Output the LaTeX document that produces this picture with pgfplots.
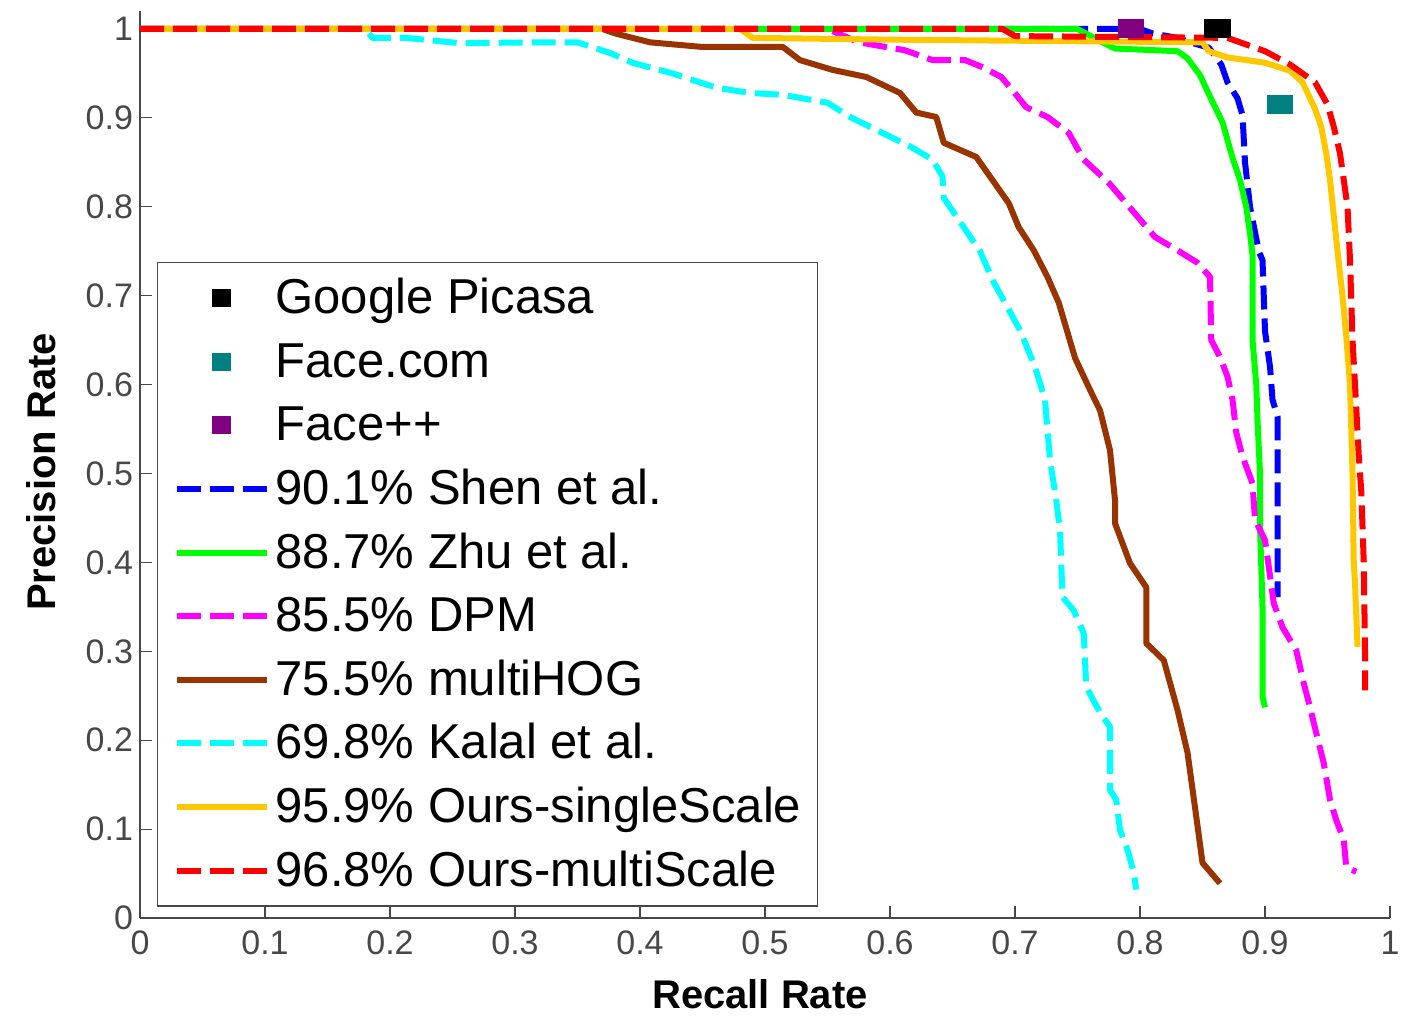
\documentclass[border=0pt]{standalone}
\usepackage{pgfplots}
\pgfplotsset{compat=1.18}
\usepackage{fontspec}
\setmainfont{Liberation Sans}
\definecolor{cBlue}{rgb}{0,0,1}
\definecolor{cGreen}{rgb}{0,1,0}
\definecolor{cMag}{rgb}{1,0,1}
\definecolor{cBrown}{rgb}{0.6,0.2,0}
\definecolor{cCyan}{rgb}{0,1,1}
\definecolor{cOrange}{rgb}{1,0.78,0}
\definecolor{cRed}{rgb}{1,0,0}
\definecolor{cTeal}{rgb}{0,0.5,0.5}
\definecolor{cPurple}{rgb}{0.5,0,0.5}
\definecolor{axgray}{rgb}{0.28,0.28,0.28}
\begin{document}
\begin{tikzpicture}
\begin{axis}[
  scale only axis,
  width=625pt, height=453.4pt,
  xmin=0, xmax=1, ymin=0, ymax=1.02,
  clip=false,
  axis x line*=bottom, axis y line*=left,
  axis line style={draw=axgray, line width=0.8pt},
  tick align=inside,
  major tick length=6pt,
  tick style={draw=axgray, line width=0.6pt},
  xtick={0,0.1,0.2,0.3,0.4,0.5,0.6,0.7,0.8,0.9,1},
  ytick={0,0.1,0.2,0.3,0.4,0.5,0.6,0.7,0.8,0.9,1},
  /pgf/number format/assume math mode=true,
  ticklabel style={font=\fontsize{17}{20}\selectfont, text=axgray},
  xticklabel style={yshift=-3pt},
  xlabel={Recall Rate},
  ylabel={Precision Rate},
  xlabel style={font=\fontsize{20}{24}\selectfont\bfseries, at={(axis description cs:0.496,-0.0993)}, anchor=base},
  ylabel style={font=\fontsize{20}{24}\selectfont\bfseries, at={(axis description cs:-0.068,0.4918)}, anchor=base, rotate=0},
  legend style={
    at={(axis description cs:0.0136,0.7234)}, anchor=north west,
    draw=axgray, line width=0.6pt,
    inner xsep=8pt, inner ysep=5pt,
    font=\fontsize{24.5}{28}\selectfont,
    nodes={inner sep=0pt, text height=20.5pt, text depth=5pt, anchor=west},
    row sep=6.3pt,
    /tikz/every odd column/.append style={column sep=3pt},
  },
  legend cell align=left,
  legend image code/.code={\draw[mark repeat=2,mark phase=2,#1] plot coordinates {(0pt,0pt) (22.5pt,0pt) (45pt,0pt)};},
  every axis plot/.append style={line width=3pt, line join=round},
  mydash/.style={dash pattern=on 12pt off 4.5pt},
  mkstyle/.style={only marks, mark=square*, mark size=4.5pt, mark options={xscale=1.4, solid, line width=0.5pt},
     legend image code/.code={\draw[mark repeat=2,mark phase=2,mark size=4.2pt, mark options={xscale=1.1,line width=0.5pt}] plot coordinates {(0pt,0pt) (22.5pt,0pt) (45pt,0pt)};}},
]
\path (axis cs:-0.112,-0.1069) rectangle (axis cs:1.0208,1.0326);

\addplot[mkstyle, color=black] coordinates {(0.862,1.0)};
\addlegendentry{Google Picasa}
\addplot[mkstyle, color=cTeal] coordinates {(0.912,0.9156)};
\addlegendentry{Face.com}
\addplot[mkstyle, color=cPurple] coordinates {(0.793,1.0)};
\addlegendentry{Face++}

% Shen et al.
\addplot[cBlue, mydash] coordinates {
(0,1) (0.80,1) (0.81,0.995) (0.83,0.99) (0.84,0.985) (0.855,0.979) (0.865,0.96) (0.87,0.94) (0.878,0.922) (0.882,0.903) (0.884,0.85) (0.888,0.80) (0.895,0.75) (0.898,0.74) (0.900,0.66) (0.904,0.62) (0.906,0.583) (0.91,0.564) (0.91,0.361)};
\addlegendentry{90.1\% Shen et al.}

% Zhu et al.
\addplot[cGreen] coordinates {
(0,1) (0.75,1) (0.77,0.985) (0.78,0.978) (0.83,0.975) (0.838,0.967) (0.848,0.948) (0.858,0.918) (0.866,0.895) (0.874,0.855) (0.88,0.83) (0.885,0.80) (0.888,0.77) (0.890,0.746) (0.890,0.65) (0.893,0.60) (0.894,0.56) (0.896,0.50) (0.896,0.44) (0.898,0.35) (0.898,0.249) (0.9,0.237)};
\addlegendentry{88.7\% Zhu et al.}

% DPM
\addplot[cMag, mydash] coordinates {
(0,1) (0.55,1) (0.575,0.985) (0.612,0.976) (0.634,0.965) (0.66,0.965) (0.674,0.957) (0.689,0.946) (0.698,0.931) (0.709,0.912) (0.726,0.901) (0.743,0.883) (0.755,0.853) (0.775,0.827) (0.798,0.789) (0.812,0.766) (0.83,0.751) (0.846,0.737) (0.856,0.721) (0.857,0.65) (0.864,0.631) (0.87,0.609) (0.874,0.583) (0.877,0.546) (0.882,0.519) (0.89,0.489) (0.892,0.448) (0.90,0.425) (0.903,0.395) (0.907,0.354) (0.914,0.327) (0.925,0.301) (0.931,0.264) (0.936,0.237) (0.941,0.208) (0.947,0.174) (0.952,0.133) (0.957,0.11) (0.963,0.088) (0.965,0.057) (0.973,0.052)};
\addlegendentry{85.5\% DPM}

% multiHOG
\addplot[cBrown] coordinates {
(0,1) (0.37,1) (0.38,0.995) (0.408,0.985) (0.448,0.98) (0.514,0.98) (0.528,0.965) (0.554,0.954) (0.581,0.946) (0.608,0.928) (0.621,0.906) (0.637,0.901) (0.643,0.872) (0.669,0.856) (0.68,0.834) (0.695,0.804) (0.703,0.777) (0.715,0.751) (0.726,0.721) (0.735,0.692) (0.748,0.63) (0.76,0.594) (0.768,0.571) (0.776,0.526) (0.78,0.47) (0.78,0.444) (0.792,0.399) (0.805,0.372) (0.805,0.309) (0.819,0.29) (0.83,0.234) (0.838,0.186) (0.845,0.114) (0.85,0.062) (0.864,0.039)};
\addlegendentry{75.5\% multiHOG}

% Kalal et al.
\addplot[cCyan, mydash] coordinates {
(0,1) (0.18,1) (0.186,0.99) (0.213,0.99) (0.256,0.984) (0.32,0.985) (0.35,0.985) (0.376,0.973) (0.394,0.962) (0.426,0.95) (0.461,0.934) (0.488,0.928) (0.514,0.926) (0.55,0.917) (0.568,0.901) (0.594,0.883) (0.616,0.868) (0.634,0.853) (0.642,0.834) (0.643,0.81) (0.658,0.779) (0.672,0.75) (0.683,0.715) (0.692,0.692) (0.704,0.661) (0.716,0.62) (0.724,0.583) (0.728,0.515) (0.733,0.47) (0.736,0.436) (0.738,0.361) (0.747,0.346) (0.755,0.32) (0.757,0.26) (0.768,0.231) (0.776,0.215) (0.776,0.144) (0.781,0.133) (0.784,0.099) (0.79,0.077) (0.795,0.051) (0.797,0.032)};
\addlegendentry{69.8\% Kalal et al.}

% Ours-singleScale
\addplot[cOrange] coordinates {
(0,1) (0.48,1) (0.49,0.99) (0.60,0.988) (0.85,0.985) (0.855,0.975) (0.87,0.968) (0.90,0.962) (0.92,0.953) (0.93,0.94) (0.935,0.925) (0.94,0.91) (0.945,0.89) (0.949,0.86) (0.952,0.83) (0.955,0.79) (0.958,0.75) (0.962,0.70) (0.965,0.654) (0.968,0.60) (0.970,0.50) (0.971,0.40) (0.972,0.377) (0.974,0.305)};
\addlegendentry{95.9\% Ours-singleScale}

% Ours-multiScale
\addplot[cRed, mydash] coordinates {
(0,1) (0.69,1) (0.70,0.992) (0.87,0.99) (0.88,0.985) (0.90,0.975) (0.92,0.96) (0.94,0.94) (0.95,0.915) (0.955,0.89) (0.96,0.86) (0.962,0.84) (0.966,0.80) (0.968,0.74) (0.970,0.65) (0.972,0.60) (0.975,0.52) (0.977,0.48) (0.979,0.40) (0.98,0.30) (0.98,0.256)};
\addlegendentry{96.8\% Ours-multiScale}
\end{axis}
\end{tikzpicture}
\end{document}
